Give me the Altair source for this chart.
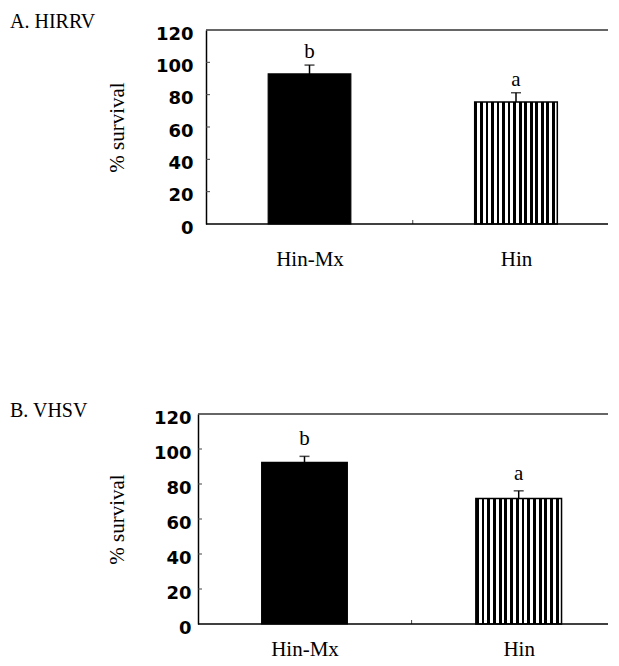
import altair as alt
import pandas as pd

groups = ["Hin-Mx", "Hin"]
y_ticks = [0, 20, 40, 60, 80, 100, 120]
inner_ticks = [20, 40, 60, 80, 100]

a_title = "A. HIRRV"
a_survival = [92.8, 75.5]
a_err = [5.5, 5.7]
a_letters = ["b", "a"]

b_title = "B. VHSV"
b_survival = [92.4, 71.7]
b_err = [3.4, 4.4]
b_letters = ["b", "a"]

SERIF = "Liberation Serif"
SANS = "DejaVu Sans"

# vertical stripe fill for the "Hin" bar
n_stripes = 15
stops = []
for i in range(n_stripes):
    stops.append(alt.GradientStop(color="black", offset=i / n_stripes))
    stops.append(alt.GradientStop(color="black", offset=(i + 0.5) / n_stripes))
    stops.append(alt.GradientStop(color="white", offset=(i + 0.5) / n_stripes))
    stops.append(alt.GradientStop(color="white", offset=(i + 1) / n_stripes))
stripes = alt.LinearGradient(gradient="linear", stops=stops, x1=0, x2=1, y1=0, y2=0)

PLOT_W = 410
BAR_HALF = 0.2  # bar width 0.4 of a category slot
label_expr = f"datum.value < 1 ? '{groups[0]}' : '{groups[1]}'"


def panel(title, vals, errs, letters, height, x_dom, axis_x, ylab_pad, ytitle_pad,
          xlab_pad, letter_dy, title_dy):
    pos = [i + 0.5 for i in range(len(groups))]
    df = pd.DataFrame({
        "group": groups,
        "pos": pos,
        "lo": [p - BAR_HALF for p in pos],
        "hi": [p + BAR_HALF for p in pos],
        "survival": vals,
        "top": [v + e for v, e in zip(vals, errs)],
        "letter": letters,
    })
    ticks_df = pd.DataFrame({"survival": inner_ticks})
    one_df = pd.DataFrame({"k": [0]})

    x = alt.X(
        "lo:Q",
        scale=alt.Scale(domain=x_dom, nice=False, zero=False),
        axis=alt.Axis(title=None, ticks=False, domain=False, grid=False,
                      values=pos, labelExpr=label_expr, labelAngle=0,
                      labelFont=SERIF, labelFontSize=21, labelColor="black",
                      labelPadding=xlab_pad),
    )
    y = alt.Y(
        "survival:Q",
        scale=alt.Scale(domain=[0, 120], nice=False),
        axis=alt.Axis(values=y_ticks, tickCount=len(y_ticks), ticks=False, grid=False,
                      title="% survival", offset=-axis_x, labelOverlap=False,
                      titleFont=SERIF, titleFontSize=21, titleFontWeight="normal",
                      titleColor="black", titlePadding=ytitle_pad,
                      labelFont=SANS, labelFontWeight="bold", labelFontSize=18,
                      labelColor="black", labelPadding=ylab_pad, labelOffset=4,
                      domainColor="black", domainWidth=1.5),
    )
    base = alt.Chart(df)
    solid = base.mark_bar(fill="black", stroke="black", strokeWidth=1.2).encode(
        x=x, x2="hi:Q", y=y, y2=alt.datum(0)).transform_filter(alt.datum.group == groups[0])
    striped = base.mark_bar(fill=stripes, stroke="black", strokeWidth=1.5).encode(
        x="lo:Q", x2="hi:Q", y="survival:Q", y2=alt.datum(0)).transform_filter(
        alt.datum.group == groups[1])
    err = base.mark_rule(color="black", strokeWidth=1.5).encode(
        x="pos:Q", y="survival:Q", y2="top:Q")
    cap = base.mark_tick(orient="horizontal", size=10, thickness=1.5, color="black").encode(
        x="pos:Q", y="top:Q")
    txt = base.mark_text(font=SERIF, fontSize=21, baseline="alphabetic", dy=letter_dy,
                         color="black").encode(x="pos:Q", y="top:Q", text="letter:N")
    yt = alt.Chart(ticks_df).mark_rule(color="#444", strokeWidth=1).encode(
        x=alt.value(axis_x), x2=alt.value(axis_x + 4), y="survival:Q")
    xt = alt.Chart(one_df).mark_rule(color="#444", strokeWidth=1).encode(
        x=alt.datum(1.0), y=alt.value(height), y2=alt.value(height - 4))
    bottomline = alt.Chart(one_df).mark_rule(color="black", strokeWidth=1.5).encode(
        x=alt.value(axis_x), x2=alt.value(PLOT_W), y=alt.datum(0))
    topline = alt.Chart(one_df).mark_rule(color="#333", strokeWidth=1.5).encode(
        x=alt.value(axis_x), x2=alt.value(PLOT_W), y=alt.datum(120))

    return alt.layer(solid, striped, err, cap, txt, yt, xt, bottomline, topline).properties(
        width=PLOT_W, height=height,
        title=alt.TitleParams(title, anchor="start", frame="group", dx=-188,
                              dy=title_dy, offset=0, font=SERIF, fontSize=20,
                              fontWeight="normal", color="black", baseline="alphabetic"),
    )


pa = panel(a_title, a_survival, a_err, a_letters, 194, [-0.04, 1.9455], 8,
           13, 28, 24, -7, 23)
pb = panel(b_title, b_survival, b_err, b_letters, 210, [0.0028, 1.9169], 0,
           7, 26, 14, -11, 28)

chart = alt.concat(pa, pb, columns=1, spacing=132).properties(
    padding={"left": 2, "top": 4, "right": 0, "bottom": 0},
    background="white",
).configure_view(stroke=None).configure_axis(labelOverlap=False)

chart.save("out.html", embed_options={"renderer": "svg", "actions": False})
